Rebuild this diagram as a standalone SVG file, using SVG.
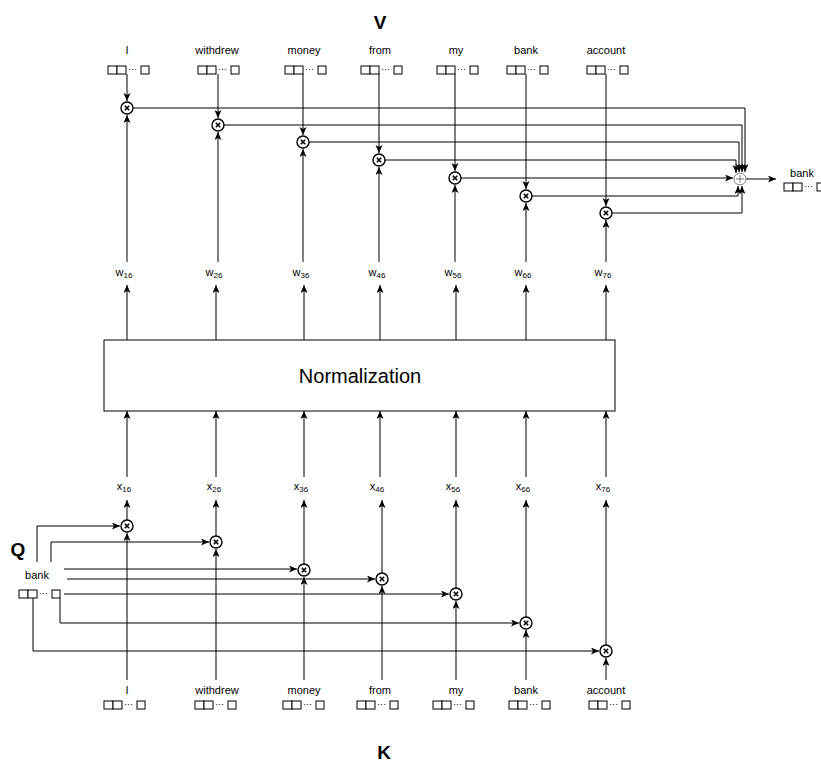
<svg xmlns="http://www.w3.org/2000/svg" width="821" height="763" viewBox="0 0 821 763">
<style>
text{font-family:"Liberation Sans",Arial,sans-serif;fill:#000}
.lbl{font-size:11px;text-anchor:middle}
.dots{font-size:9px}
.big{font-size:19px;font-weight:bold;text-anchor:middle}
.bx{fill:#fff;stroke:#000;stroke-width:1}
.ln{fill:none;stroke:#000;stroke-width:1}
.arr{fill:none;stroke:#000;stroke-width:1;marker-end:url(#ah)}
.mul circle{fill:#fff;stroke:#000;stroke-width:1.4}
.mul path{stroke:#000;stroke-width:1.6;fill:none}
.sum circle{fill:#fff;stroke:#777;stroke-width:1}
.sum path{stroke:#777;stroke-width:1;fill:none}
</style>
<defs>
<marker id="ah" markerUnits="userSpaceOnUse" markerWidth="9" markerHeight="8" refX="8" refY="3.5" orient="auto">
<path d="M0,0 L8,3.5 L0,7 L2,3.5 z" fill="#000"/>
</marker>
<g id="vec">
<rect class="bx" x="0" y="0" width="9" height="8"/>
<rect class="bx" x="9" y="0" width="9" height="8"/>
<text class="dots" x="20" y="6">···</text>
<rect class="bx" x="33" y="0" width="8" height="8"/>
</g>
<g id="mx" class="mul">
<circle r="6"/>
<path d="M-2.2,-2.2 L2.2,2.2 M2.2,-2.2 L-2.2,2.2"/>
</g>
</defs>

<g id="title-v"><text class="big" x="380" y="29">V</text></g>
<g id="title-k"><text class="big" x="384" y="759">K</text></g>
<g id="title-q"><text class="big" x="18" y="556">Q</text></g>

<!-- V vectors -->
<g id="v-I"><text class="lbl" x="127" y="54">I</text><use href="#vec" x="108" y="66"/></g>
<g id="v-withdrew"><text class="lbl" x="217" y="54">withdrew</text><use href="#vec" x="198" y="66"/></g>
<g id="v-money"><text class="lbl" x="304" y="54">money</text><use href="#vec" x="285" y="66"/></g>
<g id="v-from"><text class="lbl" x="380" y="54">from</text><use href="#vec" x="361" y="66"/></g>
<g id="v-my"><text class="lbl" x="456" y="54">my</text><use href="#vec" x="437" y="66"/></g>
<g id="v-bank"><text class="lbl" x="526" y="54">bank</text><use href="#vec" x="507" y="66"/></g>
<g id="v-account"><text class="lbl" x="606" y="54">account</text><use href="#vec" x="587" y="66"/></g>

<!-- K vectors -->
<g id="k-I"><text class="lbl" x="127" y="694">I</text><use href="#vec" x="104" y="701"/></g>
<g id="k-withdrew"><text class="lbl" x="217" y="694">withdrew</text><use href="#vec" x="195" y="701"/></g>
<g id="k-money"><text class="lbl" x="304" y="694">money</text><use href="#vec" x="283" y="701"/></g>
<g id="k-from"><text class="lbl" x="380" y="694">from</text><use href="#vec" x="357" y="701"/></g>
<g id="k-my"><text class="lbl" x="456" y="694">my</text><use href="#vec" x="433" y="701"/></g>
<g id="k-bank"><text class="lbl" x="526" y="694">bank</text><use href="#vec" x="509" y="701"/></g>
<g id="k-account"><text class="lbl" x="606" y="694">account</text><use href="#vec" x="589" y="701"/></g>

<!-- Q vector -->
<g id="q-bank"><text class="lbl" x="37" y="579">bank</text><use href="#vec" x="19" y="590"/></g>

<!-- output -->
<g id="out-bank"><text class="lbl" x="802" y="177">bank</text><use href="#vec" x="784" y="183"/></g>

<!-- Normalization -->
<g id="norm">
<rect x="104" y="340" width="511" height="71" fill="#fff" stroke="#000" stroke-width="1"/>
<text x="360" y="383" font-size="20" text-anchor="middle">Normalization</text>
</g>

<!-- w labels -->
<g id="w16"><text class="lbl" x="124" y="276">w<tspan font-size="8" dy="2">16</tspan></text></g>
<g id="w26"><text class="lbl" x="214" y="276">w<tspan font-size="8" dy="2">26</tspan></text></g>
<g id="w36"><text class="lbl" x="301" y="276">w<tspan font-size="8" dy="2">36</tspan></text></g>
<g id="w46"><text class="lbl" x="377" y="276">w<tspan font-size="8" dy="2">46</tspan></text></g>
<g id="w56"><text class="lbl" x="453" y="276">w<tspan font-size="8" dy="2">56</tspan></text></g>
<g id="w66"><text class="lbl" x="523" y="276">w<tspan font-size="8" dy="2">66</tspan></text></g>
<g id="w76"><text class="lbl" x="603" y="276">w<tspan font-size="8" dy="2">76</tspan></text></g>

<!-- x labels -->
<g id="x16"><text class="lbl" x="124" y="490">x<tspan font-size="8" dy="2">16</tspan></text></g>
<g id="x26"><text class="lbl" x="214" y="490">x<tspan font-size="8" dy="2">26</tspan></text></g>
<g id="x36"><text class="lbl" x="301" y="490">x<tspan font-size="8" dy="2">36</tspan></text></g>
<g id="x46"><text class="lbl" x="377" y="490">x<tspan font-size="8" dy="2">46</tspan></text></g>
<g id="x56"><text class="lbl" x="453" y="490">x<tspan font-size="8" dy="2">56</tspan></text></g>
<g id="x66"><text class="lbl" x="523" y="490">x<tspan font-size="8" dy="2">66</tspan></text></g>
<g id="x76"><text class="lbl" x="603" y="490">x<tspan font-size="8" dy="2">76</tspan></text></g>

<!-- connectors -->
<g id="connectors">
<!-- V down to top multipliers -->
<path class="arr" d="M127,74 V101"/>
<path class="arr" d="M218,74 V118"/>
<path class="arr" d="M303,74 V135"/>
<path class="arr" d="M379,74 V153"/>
<path class="arr" d="M455,74 V171"/>
<path class="arr" d="M526,74 V189"/>
<path class="arr" d="M606,74 V206"/>
<!-- w up to top multipliers -->
<path class="arr" d="M127,262 V115"/>
<path class="arr" d="M218,262 V132"/>
<path class="arr" d="M303,262 V149"/>
<path class="arr" d="M379,262 V167"/>
<path class="arr" d="M455,262 V185"/>
<path class="arr" d="M526,262 V203"/>
<path class="arr" d="M606,262 V220"/>
<!-- normalization to w -->
<path class="arr" d="M127,340 V285"/>
<path class="arr" d="M216,340 V285"/>
<path class="arr" d="M304,340 V285"/>
<path class="arr" d="M380,340 V285"/>
<path class="arr" d="M456,340 V285"/>
<path class="arr" d="M526,340 V285"/>
<path class="arr" d="M606,340 V285"/>
<!-- x to normalization -->
<path class="arr" d="M127,477 V411"/>
<path class="arr" d="M216,477 V411"/>
<path class="arr" d="M304,477 V411"/>
<path class="arr" d="M380,477 V411"/>
<path class="arr" d="M456,477 V411"/>
<path class="arr" d="M526,477 V411"/>
<path class="arr" d="M606,477 V411"/>
<!-- bottom multipliers up to x -->
<path class="arr" d="M127,520 V500"/>
<path class="arr" d="M216,536 V500"/>
<path class="arr" d="M304,564 V500"/>
<path class="arr" d="M382,573 V500"/>
<path class="arr" d="M456,588 V500"/>
<path class="arr" d="M526,617 V500"/>
<path class="arr" d="M606,645 V500"/>
<!-- K up to bottom multipliers -->
<path class="arr" d="M127,680 V533"/>
<path class="arr" d="M216,680 V549"/>
<path class="arr" d="M304,680 V577"/>
<path class="arr" d="M382,680 V586"/>
<path class="arr" d="M456,680 V601"/>
<path class="arr" d="M526,680 V630"/>
<path class="arr" d="M606,680 V658"/>
<!-- Q to bottom multipliers -->
<path class="arr" d="M37,562 V526 H120"/>
<path class="arr" d="M51,562 V542 H209"/>
<path class="arr" d="M64,569 H297"/>
<path class="arr" d="M67,579 H375"/>
<path class="arr" d="M64,594 H449"/>
<path class="arr" d="M60,598 V623 H519"/>
<path class="arr" d="M33,598 V651 H599"/>
<!-- top multipliers to sum -->
<path class="arr" d="M133,108 H745 V172"/>
<path class="arr" d="M224,125 H742 V172"/>
<path class="arr" d="M309,142 H739 V172"/>
<path class="arr" d="M385,160 H736 V173"/>
<path class="arr" d="M461,178 H733"/>
<path class="arr" d="M532,196 H738 V186"/>
<path class="arr" d="M612,213 H742 V186"/>
<!-- sum to output -->
<path class="arr" d="M746,179 H776"/>
</g>

<!-- multipliers -->
<g id="m-top-1"><use href="#mx" x="127" y="108"/></g>
<g id="m-top-2"><use href="#mx" x="218" y="125"/></g>
<g id="m-top-3"><use href="#mx" x="303" y="142"/></g>
<g id="m-top-4"><use href="#mx" x="379" y="160"/></g>
<g id="m-top-5"><use href="#mx" x="455" y="178"/></g>
<g id="m-top-6"><use href="#mx" x="526" y="196"/></g>
<g id="m-top-7"><use href="#mx" x="606" y="213"/></g>
<g id="m-bot-1"><use href="#mx" x="127" y="526"/></g>
<g id="m-bot-2"><use href="#mx" x="216" y="542"/></g>
<g id="m-bot-3"><use href="#mx" x="304" y="570"/></g>
<g id="m-bot-4"><use href="#mx" x="382" y="579"/></g>
<g id="m-bot-5"><use href="#mx" x="456" y="594"/></g>
<g id="m-bot-6"><use href="#mx" x="526" y="623"/></g>
<g id="m-bot-7"><use href="#mx" x="606" y="651"/></g>

<!-- sum -->
<g id="sum" class="sum">
<circle cx="740" cy="179" r="6"/>
<path d="M736,179 H744 M740,175 V183"/>
</g>
</svg>
